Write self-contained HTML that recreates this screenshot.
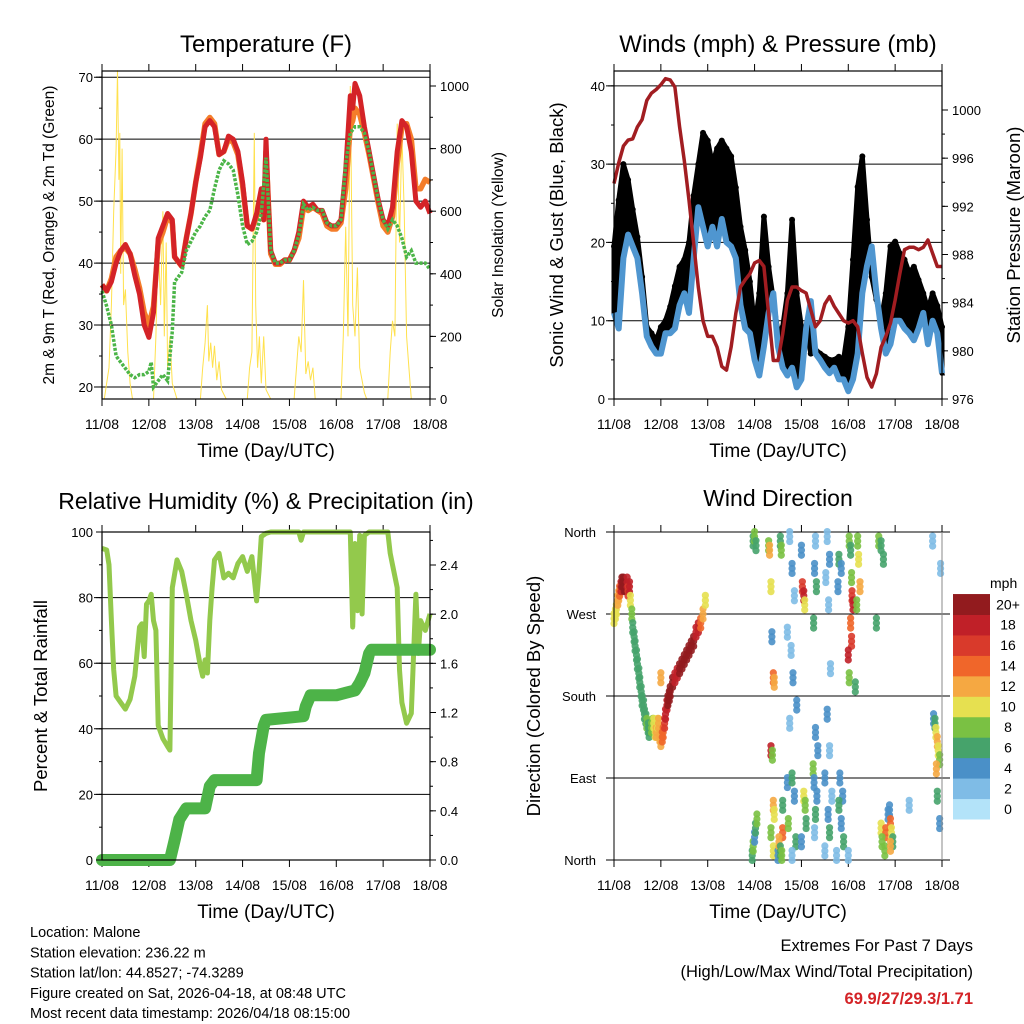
<!DOCTYPE html>
<html><head><meta charset="utf-8"><style>
body{margin:0;background:#fff;}
svg{display:block;font-family:"Liberation Sans",Arial,sans-serif;}
</style></head><body>
<svg id="s" width="1024" height="1024" xmlns="http://www.w3.org/2000/svg"></svg>
<script>
// ---------- data ----------
const dayLabels=["11/08","12/08","13/08","14/08","15/08","16/08","17/08","18/08"];
const tempT=[0,0.1,0.2,0.3,0.4,0.5,0.6,0.7,0.8,0.9,1.0,1.1,1.2,1.3,1.4,1.5,1.55,1.7,1.8,1.9,2.0,2.1,2.2,2.3,2.4,2.5,2.6,2.7,2.8,2.9,3.0,3.1,3.2,3.3,3.4,3.45,3.5,3.55,3.6,3.7,3.8,3.9,4.0,4.1,4.2,4.3,4.4,4.5,4.6,4.7,4.8,4.9,5.0,5.1,5.2,5.3,5.35,5.4,5.5,5.6,5.7,5.8,5.9,6.0,6.1,6.2,6.3,6.4,6.5,6.6,6.7,6.8,6.9,7.0];
const temp2m=[36.5,35.5,37,40,42,43,41.5,38,35,30,28,32,44,46,48,47,41,39.5,44,48,53,57,62,63,62,57.5,58,60.5,60,58,53,46,45.5,48,52,47,60,50,42,40,40,40.5,40.5,42,45,50,49,49.5,48.5,48.5,46.5,46,46,47,55,67,65,69,67,62,58,54,50,47,46,49,58,63,62,58,50,49,50,48];
const temp9m=[36.5,35.5,37.5,41,42,42.5,41.5,39,36,32,30,33,43,45,47.5,46.5,41,39.5,44,48,53,57.5,62.5,63.5,62.5,57.5,58,60,59.5,57.5,52.5,46,45.5,47.5,51,47,58,50,41.5,39.8,39.8,40.5,40.5,42,44,49,48.5,49,48.5,48,46,45.5,45.5,46.5,52,62,63,65,64,61,57.5,53.5,49.5,46,45,47.5,56,62,62.5,60,52,52,53.5,53];
const dewT=[0,0.1,0.2,0.3,0.4,0.5,0.6,0.7,0.8,0.9,1.0,1.05,1.1,1.2,1.3,1.4,1.5,1.55,1.7,1.8,1.9,2.0,2.1,2.2,2.3,2.4,2.5,2.6,2.7,2.8,2.9,3.0,3.1,3.2,3.3,3.4,3.5,3.55,3.6,3.7,3.8,3.9,4.0,4.1,4.2,4.3,4.4,4.5,4.6,4.7,4.8,4.9,5.0,5.1,5.2,5.3,5.4,5.5,5.6,5.7,5.8,5.9,6.0,6.1,6.2,6.3,6.4,6.5,6.6,6.7,6.8,6.9,7.0];
const dew=[35.5,33,30,25,24,23,22,21.5,22,22,22.5,24,20,21,22,21,29,37,38.5,42,43.5,45,46,47.5,48.5,52,55,56.5,56,55,51,46,43,43.5,45,48,57,50,42,40,40,40.5,40.5,42,44.5,49.5,48.5,49,48.5,48.5,46.5,46,46,47,56,61,62,62,61,58,54,50,47,45.5,47,46,44,41,42,40,40,40,39];
const solarT=[0,0.05,0.15,0.2,0.25,0.3,0.33,0.36,0.38,0.4,0.43,0.46,0.5,0.55,0.6,0.65,1.1,1.15,1.2,1.25,1.3,1.33,1.37,1.4,1.45,1.5,1.6,2.1,2.15,2.2,2.25,2.28,2.32,2.36,2.4,2.45,2.5,2.55,2.65,3.1,3.15,3.2,3.25,3.28,3.32,3.36,3.4,3.45,3.5,3.6,4.1,4.15,4.2,4.25,4.3,4.35,4.4,4.45,4.5,4.55,5.1,5.15,5.2,5.25,5.3,5.35,5.4,5.45,5.5,5.6,5.65,6.1,6.15,6.2,6.25,6.3,6.35,6.4,6.45,6.5,6.55,6.6,7.0];
const solar=[0,0,100,300,600,800,1050,700,850,400,800,300,350,150,50,0,0,200,500,300,600,200,500,100,200,50,0,0,100,180,300,120,180,100,170,60,120,30,0,0,100,150,850,300,100,200,50,200,30,0,0,100,200,150,380,80,120,60,100,0,0,200,550,200,1000,300,200,420,100,20,0,0,150,250,200,880,500,850,600,200,100,0,0];
const windT=[0,0.1,0.2,0.3,0.4,0.5,0.6,0.7,0.8,0.9,1.0,1.1,1.2,1.3,1.4,1.5,1.6,1.7,1.8,1.9,2.0,2.1,2.2,2.3,2.4,2.5,2.6,2.7,2.8,2.9,3.0,3.1,3.2,3.3,3.4,3.5,3.6,3.7,3.8,3.9,4.0,4.1,4.2,4.3,4.4,4.5,4.6,4.7,4.8,4.9,5.0,5.1,5.2,5.3,5.4,5.5,5.6,5.7,5.8,5.9,6.0,6.1,6.2,6.3,6.4,6.5,6.6,6.7,6.8,6.9,7.0];
const wind=[11,9,18,21,19.5,18,13.5,8,6.7,5.8,5.8,8.4,8.4,9,12,13.5,11,18,24.5,22,19.5,22,19.5,23,20,19.5,18,12,9,8.4,5,3,6.7,11,13.5,6.7,4,3,4,1.5,2.5,9,12.5,5.8,5,4,3.3,4,2.5,2.5,1,2.5,5.8,13.5,17,19.5,13.5,9,5.8,7,10,10,9,8.4,7.5,9,11,7,10,8.4,3.3];
const gust=[19.5,25.4,30,28,24.2,20.7,15.6,9.2,8.4,7.5,9.2,10,11.8,14.4,16.9,17.8,20,26,30,34,33,30,32,33,32,31,27,22,19,15,9.2,13.5,23.3,16.9,12.7,8.4,9.2,13.5,22.9,13.5,9.2,9.2,5.8,6.3,5.8,5.4,5,5,5.4,5,9.2,17.8,27.1,31,22.9,15.6,12.7,10.1,13.5,19.5,20.1,18.6,17.8,16.1,16.9,15.2,13.5,11.4,13.5,11.9,9.2];
const pressT=windT;
const pressure=[993.9,995.6,997,997.5,997.6,998.6,999.2,1000.8,1001.4,1001.7,1002.1,1002.6,1002.5,1001.9,998.6,995.8,992.5,988.9,985.3,982.5,981.2,981.2,980.3,978.7,978.4,980.3,983.1,985.3,985.9,986.4,987.3,987.5,987,983.1,979.2,979.2,981.4,984.2,985.3,985.3,985,984.8,983.4,982,982.5,983.9,984.5,983.7,983.1,982.5,982.3,982.5,982,979.8,977.8,977,978.1,980.3,981.2,982.3,984.2,986.4,988.4,988.6,988.6,988.4,988.6,989.2,988.1,987,987];
const rhT=[0,0.1,0.15,0.2,0.25,0.3,0.4,0.5,0.6,0.7,0.8,0.85,0.9,0.95,1.0,1.05,1.1,1.15,1.2,1.3,1.4,1.45,1.5,1.6,1.7,1.8,1.9,2.0,2.1,2.15,2.2,2.25,2.3,2.35,2.4,2.5,2.6,2.7,2.8,2.9,3.0,3.1,3.2,3.3,3.35,3.4,3.5,3.6,4.2,4.25,4.3,5.3,5.35,5.4,5.45,5.5,5.55,5.6,5.7,5.8,6.0,6.1,6.15,6.2,6.3,6.35,6.4,6.5,6.6,6.7,6.75,6.8,6.9,7.0];
const rh=[95,94.5,90,73,58,50,48,46,49,56,71,72,62,78,79,81,73,70,41,37,34.6,33.5,83,91.5,88,81,73,67,59,56,61,57,73,83,91.5,93.5,86,87.4,86,90.4,92.5,88,92.5,79,88,98.6,99.6,100,100,97.5,100,100,71,96.5,76,99,75,99,100,100,100,100,93.5,90,83,58,48,41.7,44.7,81,63,73,70,75];
const rainT=[0,1.45,1.55,1.65,1.8,2.2,2.3,2.4,3.3,3.35,3.45,3.5,4.3,4.35,4.45,5.0,5.2,5.4,5.5,5.6,5.7,5.75,7.0];
const rain=[0,0,0.16,0.33,0.42,0.42,0.6,0.65,0.65,0.87,1.09,1.14,1.17,1.25,1.34,1.34,1.36,1.38,1.44,1.52,1.68,1.71,1.71];
const dirT=[0,0.03,0.05,0.08,0.1,0.12,0.15,0.17,0.2,0.22,0.25,0.28,0.3,0.33,0.35,0.38,0.4,0.43,0.45,0.48,0.5,0.53,0.55,0.58,0.6,0.63,0.65,0.68,0.7,0.73,0.75,0.78,0.8,0.83,0.85,0.88,0.9,0.93,0.95,0.98,1.0,1.0,1.03,1.05,1.08,1.1,1.13,1.15,1.18,1.2,1.25,1.3,1.35,1.4,1.45,1.5,1.55,1.6,1.65,1.7,1.75,1.8,1.85,1.9,1.95,
2.95,2.97,3.0,3.02,3.05,2.97,3.0,3.03,3.3,3.32,3.35,3.37,3.4,3.42,3.35,3.38,3.4,3.42,3.35,3.4,3.5,3.55,3.57,3.6,3.52,3.55,3.58,3.6,3.7,3.75,3.8,3.85,3.7,3.78,3.82,3.9,3.75,3.8,3.85,3.72,3.88,3.8,4.0,4.02,4.05,4.07,4.05,4.08,4.1,4.0,4.25,4.3,4.28,4.32,4.26,4.3,4.35,4.27,4.33,4.3,4.28,4.5,4.55,4.6,4.52,4.58,4.62,4.55,4.6,4.5,4.65,4.57,4.6,4.75,4.8,4.85,4.78,4.82,4.88,4.8,4.85,4.9,5.0,5.02,5.05,5.07,5.08,5.1,5.05,5.07,5.0,5.02,5.15,5.2,5.22,5.25,5.18,5.6,5.65,5.7,5.75,5.7,5.8,5.72,5.78,5.85,5.88,5.9,5.92,5.95,5.9,6.3,6.8,6.82,6.85,6.87,6.9,6.92,6.95,6.88,6.9,6.95,6.97];
const dirDeg=[265,270,275,285,290,295,300,305,305,300,300,305,295,300,285,270,255,245,235,225,215,205,195,185,175,170,160,155,150,145,140,145,145,150,150,140,140,150,150,135,130,200,135,140,150,160,170,175,180,185,195,200,205,210,215,220,225,230,235,240,250,255,260,270,285,
5,15,25,35,45,350,355,345,345,340,300,245,200,195,120,115,60,50,30,10,5,350,340,30,20,10,5,60,85,355,320,290,250,230,200,170,150,90,70,40,20,5,340,300,290,280,70,60,40,20,100,350,320,300,260,140,120,85,70,50,30,10,355,330,310,280,210,160,120,90,70,50,30,5,330,320,300,90,70,60,40,20,5,350,340,310,290,280,260,240,225,200,190,350,330,300,280,260,350,345,330,35,30,20,10,50,55,40,30,20,15,60,350,155,150,140,130,120,110,100,70,40,320,305];
const dirSpd=[11,10,11,12,12,14,18,20,20,20,20,19,16,18,10,8,6,6,6,6,6,6,6,6,6,6,6,7,8,7,6,7,8,9,10,11,12,11,12,13,12,12,14,14,16,18,19,20,20,20,20,19,18,20,20,20,20,20,20,20,19,18,14,12,10,
6,8,4,6,8,6,8,6,8,12,10,4,14,12,18,8,12,10,8,10,4,6,8,14,12,6,8,6,4,2,4,2,2,2,4,4,2,6,4,8,6,2,4,16,18,10,10,8,6,4,8,2,4,6,6,4,4,4,4,6,2,2,2,4,2,2,2,4,2,4,2,4,6,2,6,4,4,4,4,6,4,6,2,8,6,8,16,18,14,16,18,8,6,8,10,12,8,6,8,6,6,10,14,8,8,4,4,14,10,6,12,2,2,4,6,10,12,10,8,12,6,4,2,2];
const speedColors=["#b3e3f9","#7fbce6","#4a90c8","#46a36b","#7ac143","#e6e050","#f5a842","#f0662a","#d93a2b","#c02028","#921b1e"];
const speedLabels=["0","2","4","6","8","10","12","14","16","18","20+"];

// ---------- helpers ----------
const NS="http://www.w3.org/2000/svg";
const svg=document.getElementById('s');
function el(tag,attrs,parent,text){const e=document.createElementNS(NS,tag);for(const k in attrs)e.setAttribute(k,attrs[k]);if(text!==undefined)e.textContent=text;(parent||svg).appendChild(e);return e;}
function lin(d0,d1,r0,r1){return v=>r0+(v-d0)/(d1-d0)*(r1-r0);}
function pathD(ts,vs,X,Y){return ts.map((t,i)=>(i?'L':'M')+X(t).toFixed(1)+' '+Y(vs[i]).toFixed(1)).join('');}

function panel(x0,y0,x1,y1,g){
  const X=lin(0,7,x0,x1);
  for(let d=0;d<=7;d++){
    const tk=el('line',{x1:X(d),x2:X(d),y1:y1,y2:y1+7,stroke:'#000','stroke-width':1},g);
    
    el('line',{x1:X(d),x2:X(d),y1:y0,y2:y0-7,stroke:'#000','stroke-width':1},g);
    const lb=el('text',{x:X(d),y:y1+30,'font-size':14,'text-anchor':'middle'},g,dayLabels[d]);
    
  }
  const xt=el('text',{x:(x0+x1)/2,y:y1+58,'font-size':19,'text-anchor':'middle'},g,'Time (Day/UTC)');
  
  return X;
}
function box(x0,y0,x1,y1,g){const r=el('rect',{x:x0,y:y0,width:x1-x0,height:y1-y0,fill:'none',stroke:'#000','stroke-width':1.2},g);}
function grid(vals,Y,xa,xb,g){vals.forEach(v=>{el('line',{x1:xa,x2:xb,y1:Y(v),y2:Y(v),stroke:'#000','stroke-width':1},g);});}
function yTicks(vals,Y,x,side,g,labels,minor){
  vals.forEach((v,i)=>{
    el('line',{x1:x,x2:x+(side<0?-6:6),y1:Y(v),y2:Y(v),stroke:'#000'},g);
    const t=el('text',{x:x+(side<0?-9:10),y:Y(v)+5,'font-size':13,'text-anchor':side<0?'end':'start'},g,labels?labels[i]:String(v));
    
  });
  (minor||[]).forEach(v=>el('line',{x1:x,x2:x+(side<0?-3:3),y1:Y(v),y2:Y(v),stroke:'#000'},g));
}
function title(x,y,txt,name,size,g){const t=el('text',{x:x,y:y,'font-size':size||24,'text-anchor':'middle'},g,txt);}
function vlabel(x,y,txt,size,name,g){const t=el('text',{x:x,y:y,'font-size':size,'text-anchor':'middle',transform:`rotate(-90 ${x} ${y})`},g,txt);}
function range(a,b,s){const r=[];for(let v=a;v<=b+1e-9;v+=s)r.push(+v.toFixed(4));return r;}

// ---------- Temperature ----------
{
const g=el('g',{});
const x0=102,x1=430,y0=71,y1=399;
const Y=lin(18.06,71,y1,y0), YS=lin(0,1000,399,86);
const X=panel(x0,y0,x1,y1,g);
grid([20,30,40,50,60,70],Y,94,x1,g);
const sp=el('path',{d:pathD(solarT,solar,X,YS),fill:'none',stroke:'#ffe14d','stroke-width':1},g);
const o=el('path',{d:pathD(tempT,temp9m,X,Y),fill:'none',stroke:'#f47d2a','stroke-width':5.5,'stroke-linejoin':'round'},g);
const r=el('path',{d:pathD(tempT,temp2m,X,Y),fill:'none',stroke:'#d42327','stroke-width':5,'stroke-linejoin':'round'},g);
const dg=el('path',{d:pathD(dewT,dew,X,Y),fill:'none',stroke:'#4cb548','stroke-width':3.5,'stroke-dasharray':'3 1.5'},g);
box(x0,y0,x1,y1,g);
yTicks([20,30,40,50,60,70],Y,x0,-1,g,null,range(20,70,5));
yTicks([0,200,400,600,800,1000],YS,x1,1,g,null,range(0,1000,100));
title(266,52,'Temperature (F)','temperature-title',24,g);
vlabel(54,235,'2m & 9m T (Red, Orange) & 2m Td (Green)',15.5,'temperature-y-axis-title',g);
vlabel(503,235,'Solar Insolation (Yellow)',15.5,'solar-y-axis-title',g);
}
// ---------- Winds ----------
{
const g=el('g',{});
const x0=614,x1=942,y0=71,y1=399;
const Y=lin(0,41.9,y1,y0), YP=lin(976,1000,399,110);
const X=panel(x0,y0,x1,y1,g);
grid([10,20,30,40],Y,606,x1,g);
const up=windT.map((t,i)=>(i?'L':'M')+X(t).toFixed(1)+' '+Y(gust[i]).toFixed(1)).join('');
const dn=windT.slice().reverse().map((t,j)=>{const i=windT.length-1-j;return 'L'+X(t).toFixed(1)+' '+Y(wind[i]).toFixed(1);}).join('');
const gb=el('path',{d:up+dn+'Z',fill:'#000',stroke:'#000','stroke-width':5,'stroke-linejoin':'round'},g);

windT.forEach((t,i)=>{
  const c=el('circle',{cx:X(t),cy:Y(gust[i]),r:3,fill:'#000'},g);
  
});
const w=el('path',{d:pathD(windT,wind,X,Y),fill:'none',stroke:'#4f96d0','stroke-width':6,'stroke-linejoin':'round'},g);
const p=el('path',{d:pathD(pressT,pressure,X,YP),fill:'none',stroke:'#a11d21','stroke-width':3.5,'stroke-linejoin':'round'},g);
box(x0,y0,x1,y1,g);
yTicks([0,10,20,30,40],Y,x0,-1,g,null,range(0,40,5));
yTicks([976,980,984,988,992,996,1000],YP,x1,1,g,null,range(976,1000,2));
title(778,52,'Winds (mph) & Pressure (mb)','winds-title',24,g);
vlabel(563,235,'Sonic Wind & Gust (Blue, Black)',18.5,'wind-y-axis-title',g);
vlabel(1020,235,'Station Pressure (Maroon)',18.5,'pressure-y-axis-title',g);
}
// ---------- RH & Precip ----------
{
const g=el('g',{});
const x0=102,x1=430,y0=532,y1=860;
const Y=lin(0,100,y1,y0), YR=lin(0,2.4,860,565);
const X=panel(x0,y0,x1,y1,g);
grid([20,40,60,80],Y,94,x1,g);
const hp=el('path',{d:pathD(rhT,rh,X,Y),fill:'none',stroke:'#93c94c','stroke-width':5,'stroke-linejoin':'round'},g);
const rp=el('path',{d:pathD(rainT,rain,X,YR),fill:'none',stroke:'#4db348','stroke-width':12,'stroke-linejoin':'round','stroke-linecap':'round'},g);
box(x0,y0,x1,y1,g);
yTicks([0,20,40,60,80,100],Y,x0,-1,g,null,range(0,100,10));
yTicks([0,0.4,0.8,1.2,1.6,2.0,2.4],YR,x1,1,g,["0.0","0.4","0.8","1.2","1.6","2.0","2.4"],range(0,2.6,0.2));
title(266,509,'Relative Humidity (%) & Precipitation (in)','humidity-title',23,g);
vlabel(47,696,'Percent & Total Rainfall',18.5,'humidity-y-axis-title',g);
}
// ---------- Wind Direction ----------
{
const g=el('g',{});
const x0=614,x1=942,y0=532,y1=860;
const Y=lin(0,360,y1,y0);
const X=panel(x0,y0,x1,y1,g);
grid([0,90,180,270,360],Y,606,950,g);
const cIdx=s=>Math.max(0,Math.min(10,Math.floor(s/2)));
dirT.forEach((t,i)=>{
  [-5,0,5].forEach(o=>{
    const c=el('circle',{cx:X(t),cy:Y(dirDeg[i])+o,r:3.6,fill:speedColors[cIdx(dirSpd[i])],'fill-opacity':0.9},g);
    
  });
});
el('line',{x1:x0,x2:x0,y1:y0,y2:y1,stroke:'#000'},g);
el('line',{x1:x1,x2:x1,y1:y0,y2:y1,stroke:'#888'},g);
["North","East","South","West","North"].forEach((n,i)=>{
  const t=el('text',{x:596,y:Y(i*90)+5,'font-size':13,'text-anchor':'end'},g,n);
  
});
title(778,506,'Wind Direction','wind-direction-title',23,g);
vlabel(540,696,'Direction (Colored By Speed)',18.5,'direction-y-axis-title',g);
const cb=el('g',{},g);
const bh=20.45;
speedColors.forEach((c,i)=>{
  const yy=819-(i+1)*bh;
  const r=el('rect',{x:953,y:yy,width:37,height:bh+0.5,fill:c},cb);
  const t=el('text',{x:1008,y:yy+bh/2+5,'font-size':14,'text-anchor':'middle'},cb,speedLabels[i]);
});
const mt=el('text',{x:990,y:588,'font-size':14},cb,'mph');
}
// ---------- footer text ----------
{
const g=el('g',{});
["Location: Malone","Station elevation: 236.22 m","Station lat/lon: 44.8527; -74.3289","Figure created on Sat, 2026-04-18, at 08:48 UTC","Most recent data timestamp: 2026/04/18 08:15:00"].forEach((s,i)=>{
  const t=el('text',{x:30,y:937+i*20.3,'font-size':14.5},g,s);
});
const e1=el('text',{x:973,y:951,'font-size':16.5,'text-anchor':'end'},g,'Extremes For Past 7 Days');
const e2=el('text',{x:973,y:977,'font-size':16.5,'text-anchor':'end'},g,'(High/Low/Max Wind/Total Precipitation)');
const e3=el('text',{x:973,y:1004,'font-size':16.5,'text-anchor':'end','font-weight':'bold',fill:'#d42327'},g,'69.9/27/29.3/1.71');
}
</script>
</body></html>
